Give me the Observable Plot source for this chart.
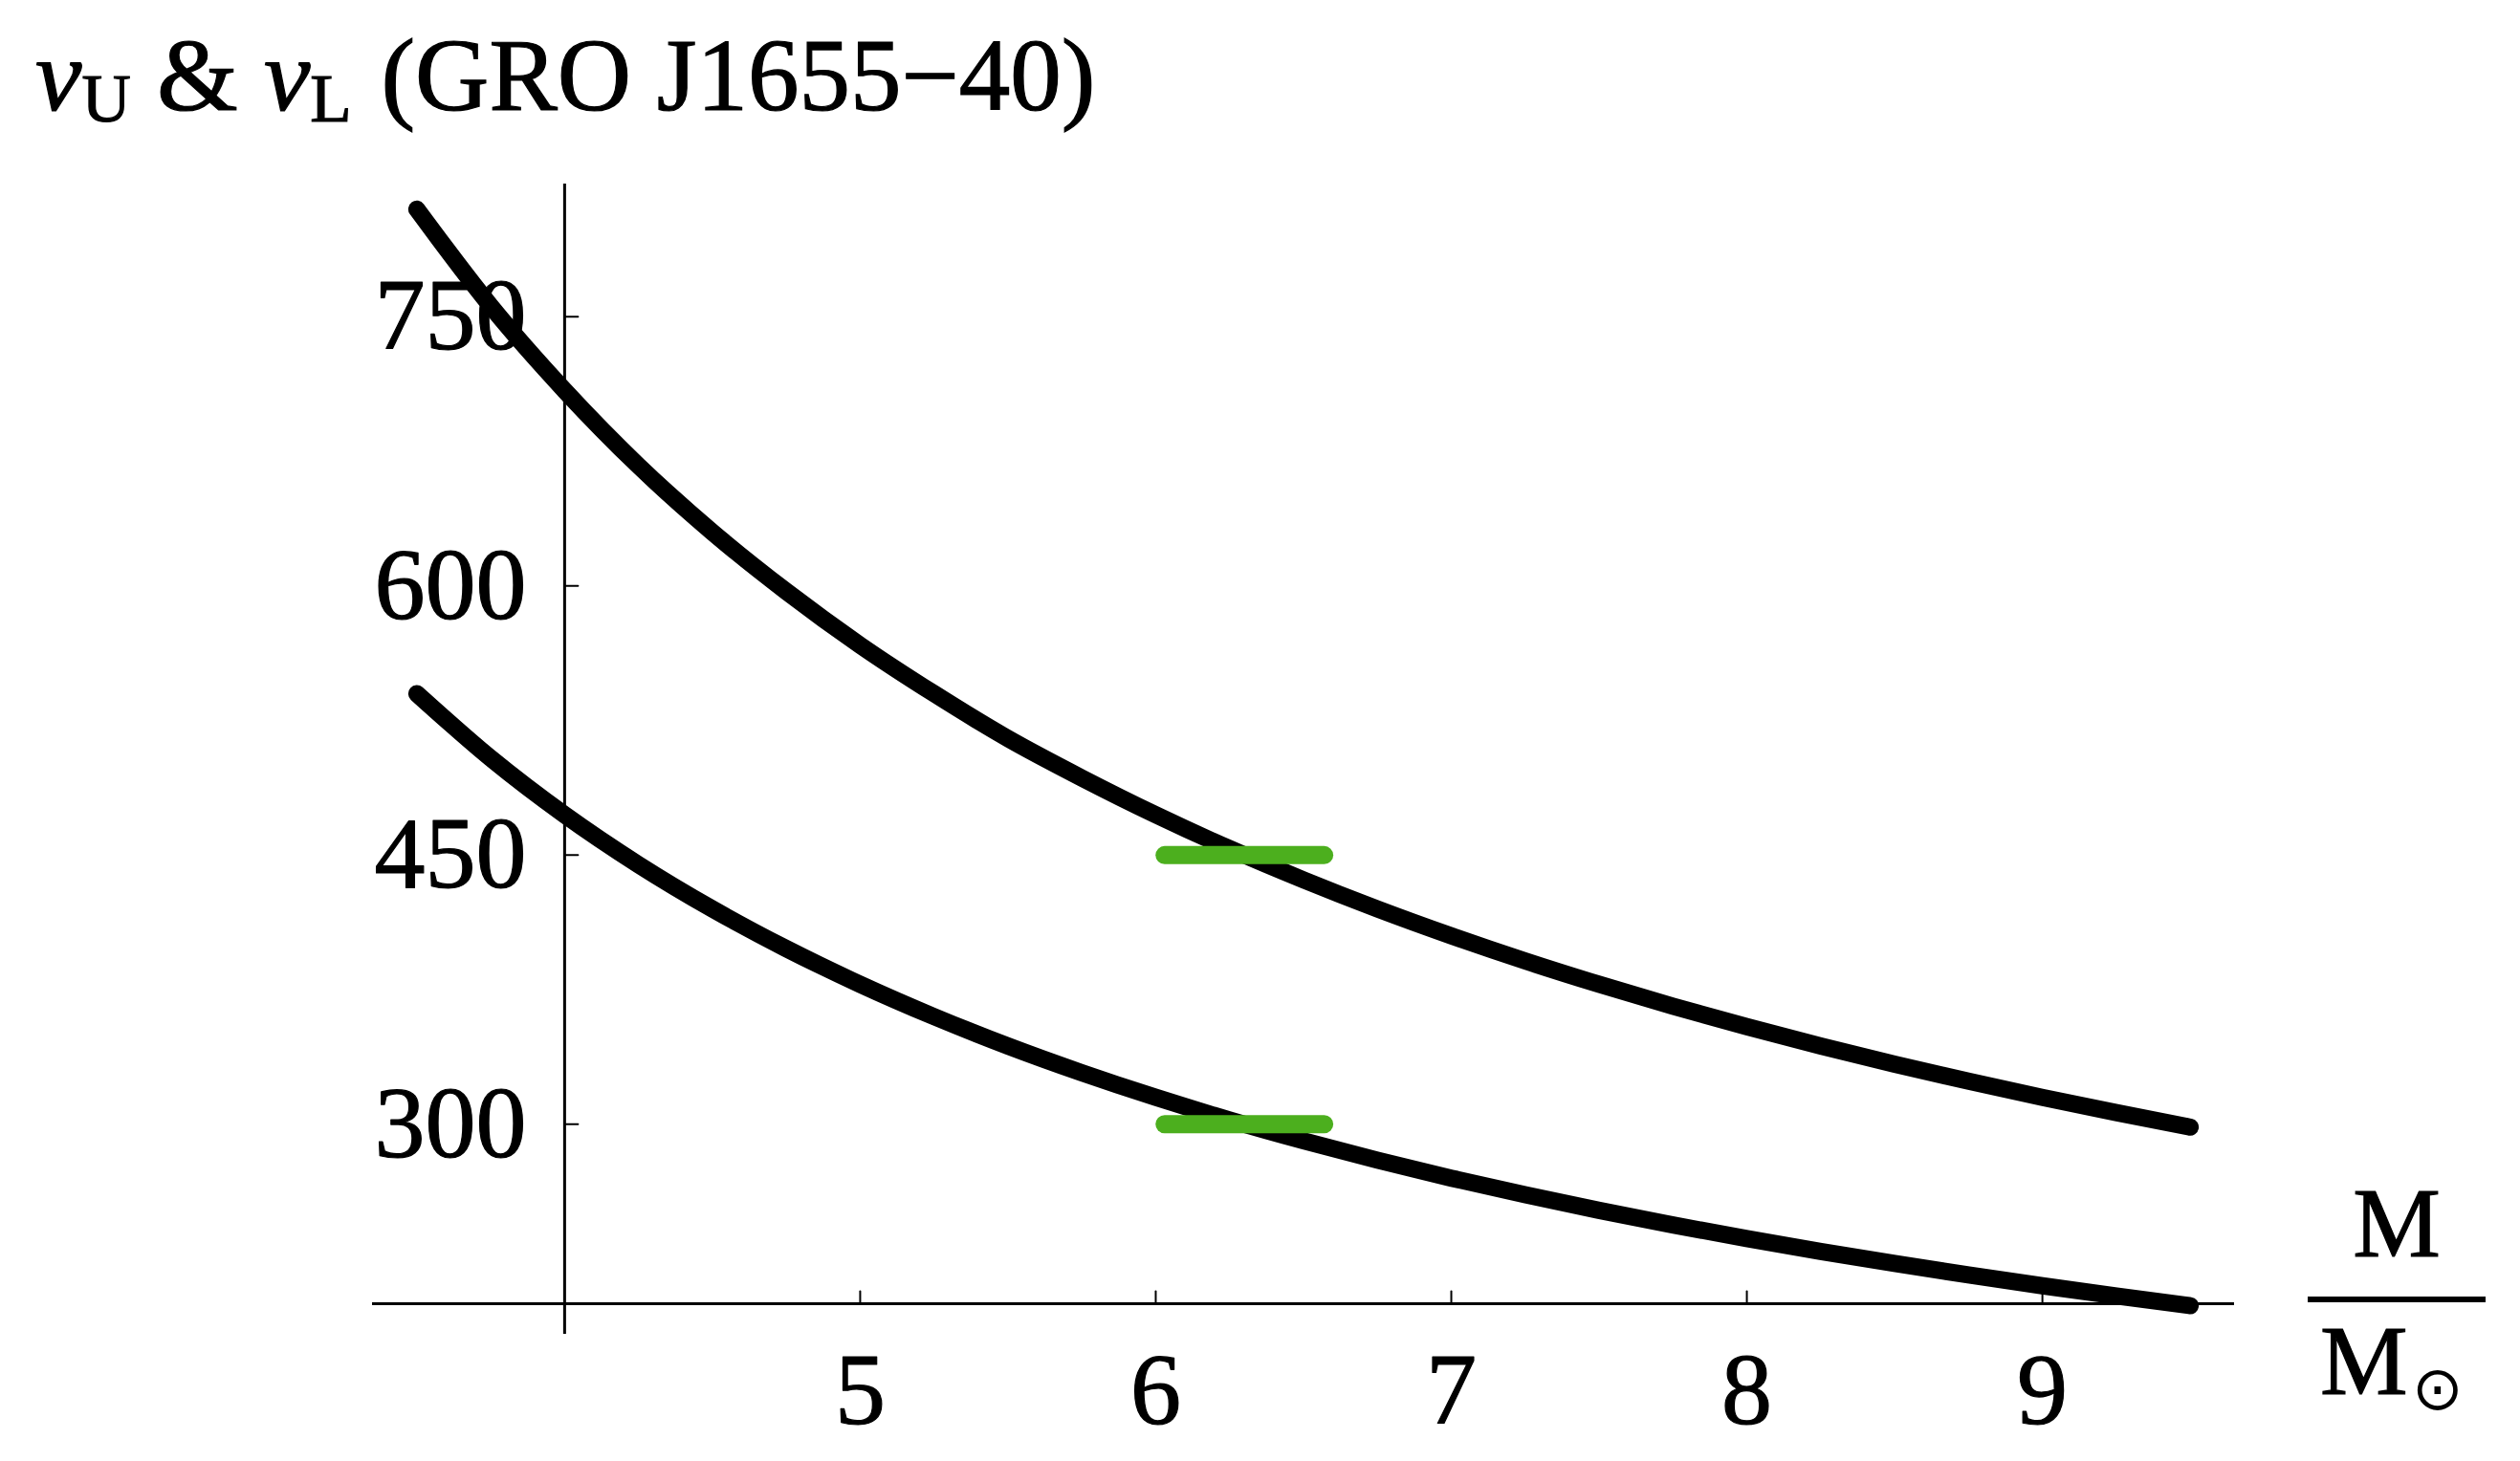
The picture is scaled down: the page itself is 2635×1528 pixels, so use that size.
<!DOCTYPE html>
<html>
<head>
<meta charset="utf-8">
<script src="https://cdn.jsdelivr.net/npm/d3@7"></script>
<script src="https://cdn.jsdelivr.net/npm/@observablehq/plot@0.6"></script>
<style>
  html, body { margin: 0; padding: 0; background: #ffffff; }
  #chart svg { display: block; }
</style>
</head>
<body>
<div id="chart"></div>
<script>
// ---- data ----
const mass = [3.5, 3.75, 4.0, 4.25, 4.5, 4.75, 5.0, 5.25, 5.5, 5.75, 6.0, 6.25, 6.5,
              6.75, 7.0, 7.25, 7.5, 7.75, 8.0, 8.25, 8.5, 8.75, 9.0, 9.25, 9.5];
const nuUpper = [810, 756, 709, 667, 630, 597, 567, 540, 515, 493, 472.5, 453.6, 436.2,
                 420, 405, 391, 378, 365.8, 354.4, 343.6, 333.5, 324, 315, 306.5, 298.4];
const nuLower = [540, 504, 472.5, 444.7, 420, 397.9, 378, 360, 343.6, 328.7, 315, 302.4, 290.8,
                 280, 270, 260.7, 252, 243.9, 236.3, 229.1, 222.4, 216, 210, 204.3, 198.9];
const observedMassLow = 6.03;
const observedMassHigh = 6.57;
const observedQPO = [450, 300];
const xTicks = [5, 6, 7, 8, 9];
const yTicks = [300, 450, 600, 750];
const originX = 4;
const originY = 200;
const xDomain = [3.35, 9.65];
const yDomain = [200, 824];
const yAxisBottom = 183;

const titleParts = ["ν", "U", " & ", "ν", "L", " (GRO J1655−40)"];
const xLabelTop = "M";
const xLabelBottom = "M";
const xLabelSub = "⊙";

// ---- chart ----
const W = 2635, H = 1528;
const serif = "Liberation Serif, Times New Roman, Times, serif";

const upperRows = mass.map((m, i) => ({m, nu: nuUpper[i]}));
const lowerRows = mass.map((m, i) => ({m, nu: nuLower[i]}));

const tickShape = {draw(context, l) { context.moveTo(0, 0); context.lineTo(0, -l); }};
const textStyle = {fontFamily: serif, fill: "black", stroke: "black", strokeWidth: 1.2};

const chart = Plot.plot({
  width: W,
  height: H,
  marginLeft: 389,
  marginRight: W - 2336,
  marginTop: 192,
  marginBottom: H - 1363,
  x: {domain: xDomain, range: [389, 2336], axis: null},
  y: {domain: yDomain, range: [1363, 192], axis: null},
  style: {fontFamily: serif, background: "#ffffff", overflow: "visible"},
  marks: [
    // axes
    Plot.ruleY([originY], {x1: xDomain[0], x2: xDomain[1], stroke: "black", strokeWidth: 3}),
    Plot.ruleX([originX], {y1: yAxisBottom, y2: yDomain[1], stroke: "black", strokeWidth: 3}),
    Plot.vector(xTicks, {x: d => d, y: originY, length: 13, rotate: 0, anchor: "start",
                         shape: tickShape, stroke: "black", strokeWidth: 2}),
    Plot.vector(yTicks, {x: originX, y: d => d, length: 14, rotate: 90, anchor: "start",
                         shape: tickShape, stroke: "black", strokeWidth: 2}),
    Plot.text(xTicks, {x: d => d, y: originY, text: d => String(d), dy: 92,
                       fontSize: 106, ...textStyle}),
    Plot.text(yTicks, {x: originX, y: d => d, text: d => String(d), textAnchor: "end", dx: -40,
                       fontSize: 106, ...textStyle}),
    // curves
    Plot.line(upperRows, {x: "m", y: "nu", stroke: "black", strokeWidth: 18,
                          strokeLinecap: "round", strokeLinejoin: "round", curve: "monotone-x"}),
    Plot.line(lowerRows, {x: "m", y: "nu", stroke: "black", strokeWidth: 18,
                          strokeLinecap: "round", strokeLinejoin: "round", curve: "monotone-x"}),
    // observed QPO frequencies over the mass range
    Plot.link(observedQPO, {x1: () => observedMassLow, x2: () => observedMassHigh,
                            y1: d => d, y2: d => d, stroke: "#4caf1e", strokeWidth: 19,
                            strokeLinecap: "round"})
  ]
});

const svg = d3.select(chart);

// title
const t = svg.append("text")
  .attr("x", 37).attr("y", 115).attr("text-anchor", "start")
  .attr("font-family", serif).attr("font-size", 109)
  .attr("fill", "black").attr("stroke", "black").attr("stroke-width", 1.2);
t.append("tspan").attr("font-style", "italic").text(titleParts[0]);
t.append("tspan").attr("font-size", 71).attr("dy", 12).text(titleParts[1]);
t.append("tspan").attr("dy", -12).text(titleParts[2]);
t.append("tspan").attr("font-style", "italic").text(titleParts[3]);
t.append("tspan").attr("font-size", 71).attr("dy", 12).text(titleParts[4]);
t.append("tspan").attr("dy", -12).attr("dx", 4).attr("font-size", 107).text(titleParts[5]);

// x axis label as a fraction M / M_sun
svg.append("text")
  .attr("x", 2506).attr("y", 1314).attr("text-anchor", "middle")
  .attr("font-family", serif).attr("font-size", 103)
  .attr("fill", "black").attr("stroke", "black").attr("stroke-width", 1.2)
  .text(xLabelTop);
svg.append("line")
  .attr("x1", 2413).attr("x2", 2599).attr("y1", 1359).attr("y2", 1359)
  .attr("stroke", "black").attr("stroke-width", 6);
const b = svg.append("text")
  .attr("x", 2426).attr("y", 1458).attr("text-anchor", "start")
  .attr("font-family", serif).attr("font-size", 103)
  .attr("fill", "black");
b.append("tspan").attr("stroke", "black").attr("stroke-width", 1.2).text(xLabelBottom);
b.append("tspan").attr("font-size", 64).attr("dy", 16).attr("dx", 4).text(xLabelSub);

document.getElementById("chart").appendChild(chart);
</script>
</body>
</html>
